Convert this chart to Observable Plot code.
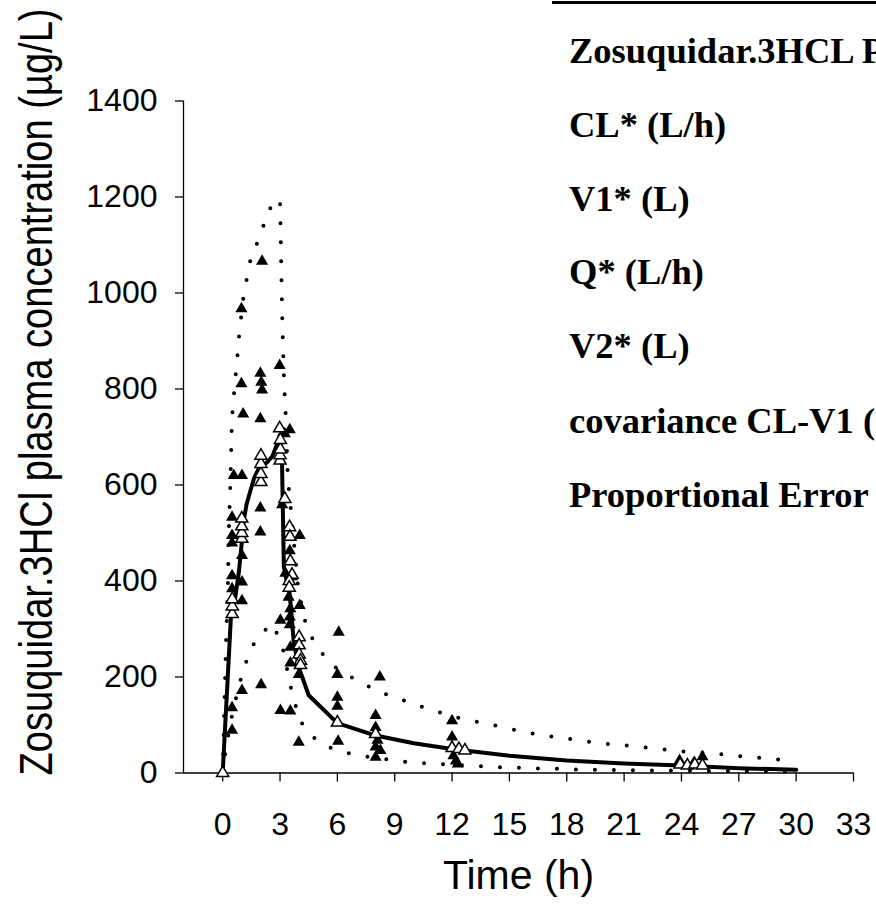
<!DOCTYPE html>
<html>
<head>
<meta charset="utf-8">
<script src="https://cdn.jsdelivr.net/npm/d3@7"></script>
<script src="https://cdn.jsdelivr.net/npm/@observablehq/plot@0.6"></script>
<style>
  html, body { margin: 0; padding: 0; background: #fff; overflow: hidden; }
  #wrap { position: relative; width: 876px; height: 913px; overflow: hidden; background: #fff; }
  #chart { position: absolute; left: 0; top: 0; }
  .tbl { position: absolute; left: 569px; font-family: 'Liberation Serif', 'Times New Roman', serif; font-weight: bold; font-size: 36.5px; line-height: 36.5px; white-space: nowrap; color: #000; }
  #rule { position: absolute; left: 552px; top: 1px; width: 324px; height: 3px; background: #000; }
</style>
</head>
<body>
<div id="wrap">
  <div id="chart"></div>
  <div id="rule"></div>
</div>
<script>
// ---- data ----
const xTicks = [0, 3, 6, 9, 12, 15, 18, 21, 24, 27, 30, 33];
const yTicks = [0, 200, 400, 600, 800, 1000, 1200, 1400];

// median prediction (solid line)
const medianTime = [0, 0.44, 0.66, 0.85, 1.0, 1.1, 1.25, 1.45, 1.65, 1.88, 2.1, 2.32, 2.6, 2.8, 3.0, 3.1, 3.2, 3.35, 3.5, 3.72, 4.0, 4.5, 6, 8, 10, 12, 15, 18, 21, 24, 27, 30];
const medianConc = [0, 332, 366, 420, 480, 526, 560, 588, 615, 634, 642, 647, 660, 680, 705, 655, 430, 400, 375, 272, 218, 162, 104, 78, 62, 50, 36, 26, 20, 15.6, 10, 6.6];

// upper percentile (dotted)
const upperTime = [0, 0.18, 0.28, 0.33, 0.4, 0.47, 0.52, 0.61, 0.7, 0.79, 0.87, 1.1, 1.29, 1.49, 1.94, 2.27, 2.72, 3.0, 3.02, 3.06, 3.12, 3.2, 3.25, 3.3, 3.4, 3.48, 3.58, 3.86, 3.95, 4.38, 4.9, 5.7, 6.7, 7.7, 8.7, 9.7, 10.7, 11.7, 12.7, 13.7, 14.7, 15.7, 16.7, 17.7, 18.7, 19.7, 20.7, 21.6, 22.6, 23.6, 24.6, 25.6, 26.6, 27.6, 28.6, 29.6];
const upperConc = [0, 280, 400, 519, 598, 718, 758, 798, 838, 877, 917, 997, 1036, 1077, 1116, 1157, 1197, 1188, 1150, 1060, 940, 830, 783, 743, 623, 583, 543, 424, 384, 304, 264, 225, 200, 179, 161, 148, 134, 122, 111, 104, 95, 86, 79, 73, 68, 62, 59, 55, 51, 47, 43, 41, 37, 33, 30, 26];

// lower percentile (dotted)
const lowerTime = [0, 0.2, 0.49, 0.72, 0.98, 1.29, 1.75, 2.58, 3.07, 3.3, 3.47, 3.74, 4.0, 4.68, 5.67, 6.69, 7.68, 8.67, 9.67, 10.67, 11.66, 12.67, 13.67, 14.66, 15.65, 16.65, 17.64, 18.66, 19.65, 22, 25, 28, 30];
const lowerConc = [0, 60, 120, 160, 200, 239, 280, 311, 272, 232, 193, 152, 111, 76, 52, 40, 33, 28, 22.5, 20, 18, 15.6, 13.5, 12, 10.8, 9.4, 8.7, 7.3, 6.6, 5.5, 4.5, 3.5, 3];

// observed concentrations (filled triangles)
const obsTime = [0.49, 0.49, 0.49, 0.49, 0.49, 0.49, 0.49, 0.58,
  0.98, 0.98, 1.07, 1.01, 1.01, 1.01, 1.01, 1.01,
  2.06, 1.97, 2.02, 2.06, 1.97, 1.97, 1.97, 2.01,
  2.98, 3.02, 3.02, 3.11, 3.25, 3.28,
  3.45, 3.51, 3.51, 3.54, 3.51, 3.51, 3.54, 3.54, 3.54, 3.63,
  4.03, 4.03, 3.98, 3.98,
  6.07, 6.0, 6.0, 6.0, 6.04,
  8.0, 8.0, 8.1, 8.0, 8.0, 8.22, 8.25,
  12.0, 12.0, 12.07, 12.2, 12.3,
  23.9, 24.66, 25.1];
const obsConc = [533, 495, 479, 411, 384, 136, 89, 620,
  967, 811, 748, 620, 453, 398, 359, 172,
  1066, 833, 814, 798, 738, 552, 502, 184,
  849, 318, 130, 559, 707, 416,
  366, 715, 463, 342, 325, 309, 262, 229, 129, 409,
  495, 349, 205, 64,
  293, 205, 158, 139, 66,
  120, 95, 68, 54, 33, 200, 47,
  109, 75, 36, 25, 19,
  26, 22, 34];

// predicted concentrations at sampling times (open triangles)
const predTime = [0, 0.5, 0.5, 0.5, 1.0, 1.0, 1.0, 1.0, 2.0, 2.0, 2.0, 2.0,
  3.0, 3.0, 3.02, 3.02, 2.98, 3.25,
  3.5, 3.52, 3.54, 3.63, 3.48, 3.48,
  4.0, 4.0, 4.0, 4.07, 4.07,
  6, 8, 12, 12.36, 12.67,
  23.93, 24.31, 24.7, 25.1];
const predConc = [0, 331, 347, 362, 488, 500, 514, 530, 606, 623, 644, 661,
  651, 662, 674, 694, 718, 571,
  512, 492, 441, 413, 400, 386,
  283, 266, 247, 234, 225,
  105, 81, 52, 50, 47,
  17.7, 15.6, 17.7, 15.6];

const tableRows = ["Zosuquidar.3HCL Parameter", "CL* (L/h)", "V1* (L)", "Q* (L/h)", "V2* (L)", "covariance CL-V1 (%)", "Proportional Error (%)"];

// ---- build ----
const zip = (xs, ys) => xs.map((x, i) => ({x, y: ys[i]}));
const median = zip(medianTime, medianConc);
const upper = zip(upperTime, upperConc);
const lower = zip(lowerTime, lowerConc);
const obs = zip(obsTime, obsConc);
const pred = zip(predTime, predConc);

const sans = "'Liberation Sans', Arial, Helvetica, sans-serif";
const xMin = -2.05;
const yTitle = "Zosuquidar.3HCl plasma concentration (µg/L)";

const chart = Plot.plot({
  width: 876,
  height: 913,
  marginLeft: 183,
  marginRight: 23,
  marginTop: 100.5,
  marginBottom: 140.5,
  style: {fontFamily: sans, background: "#fff", color: "#000", overflow: "visible"},
  x: {domain: [xMin, 33]},
  y: {domain: [0, 1400]},
  marks: [
    Plot.axisX({ticks: xTicks, tickSize: 9, tickPadding: 30, fontSize: 32, label: null, strokeWidth: 1.3, tickFormat: d => String(d)}),
    Plot.axisY({ticks: yTicks, tickSize: 8, tickPadding: 18, fontSize: 32, label: null, strokeWidth: 1.3, tickFormat: d => String(d)}),
    Plot.ruleY([0], {stroke: "#000", strokeWidth: 1.3}),
    Plot.ruleX([xMin], {stroke: "#000", strokeWidth: 1.3}),
    Plot.line(upper, {x: "x", y: "y", stroke: "#000", strokeWidth: 4, strokeDasharray: "0 19", strokeLinecap: "round", curve: "linear"}),
    Plot.line(lower, {x: "x", y: "y", stroke: "#000", strokeWidth: 4, strokeDasharray: "0 19", strokeLinecap: "round", curve: "linear"}),
    Plot.line(median, {x: "x", y: "y", stroke: "#000", strokeWidth: 4, strokeLinejoin: "round"}),
    Plot.dot(obs, {x: "x", y: "y", symbol: "triangle", r: 4.5, fill: "#000", stroke: "none"}),
    Plot.dot(pred, {x: "x", y: "y", symbol: "triangle", r: 4.5, fill: "#fff", stroke: "#000", strokeWidth: 1.5}),
    Plot.text(["Time (h)"], {frameAnchor: "bottom", dy: 115.5, fontSize: 41, fill: "#000"}),
    Plot.text([yTitle], {frameAnchor: "left", textAnchor: "middle", rotate: -90, dx: -146, dy: -45, fontSize: 46, fill: "#000"})
  ]
});
document.getElementById("chart").appendChild(chart);

// condense the rotated y title to the length it has in the figure
chart.querySelectorAll("text").forEach(t => {
  if (t.textContent === yTitle) {
    t.setAttribute("textLength", 767);
    t.setAttribute("lengthAdjust", "spacingAndGlyphs");
  }
});

const wrap = document.getElementById("wrap");
const baselines = [63, 137, 211, 284, 358, 433, 507];
tableRows.forEach((t, i) => {
  const d = document.createElement("div");
  d.className = "tbl";
  d.textContent = t;
  d.style.top = (baselines[i] - 30.3) + "px";
  wrap.appendChild(d);
});
</script>
</body>
</html>
